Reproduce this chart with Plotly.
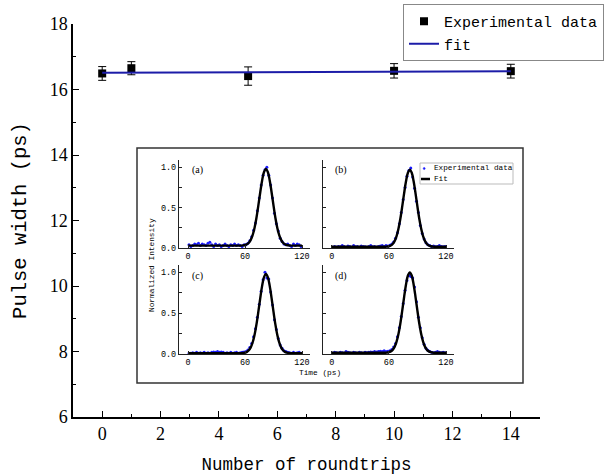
import plotly.graph_objects as go

# ---------------- main chart data ----------------
roundtrips = [0, 1, 5, 10, 14]
pulse_width = [16.49, 16.65, 16.41, 16.57, 16.56]
pulse_err = [0.21, 0.20, 0.28, 0.22, 0.21]
fit_x = [0, 14]
fit_y = [16.51, 16.56]

# ---------------- inset data ----------------
t_data = [1, 3, 5, 7, 9, 11, 13, 15, 17, 19, 21, 23, 25, 27, 29, 31, 33, 35, 37, 39,
          41, 43, 45, 47, 49, 51, 53, 55, 57, 59, 61, 63, 65, 67, 69, 71, 73, 75, 77, 79,
          81, 83, 85, 87, 89, 91, 93, 95, 97, 99, 101, 103, 105, 107, 109, 111, 113, 115, 117, 119]
t_fit = [0, 2, 4, 6, 8, 10, 12, 14, 16, 18, 20, 22, 24, 26, 28, 30, 32, 34, 36, 38, 40,
         42, 44, 46, 48, 50, 52, 54, 56, 58, 60, 62, 64, 66, 68, 70, 72, 74, 76, 78, 80,
         82, 84, 86, 88, 90, 92, 94, 96, 98, 100, 102, 104, 106, 108, 110, 112, 114, 116, 118, 120]

data_a = [0.04, 0.02, 0.03, 0.05, 0.04, 0.06, 0.03, 0.05, 0.04, 0.03, 0.06, 0.07, 0.04, 0.02, 0.05,
          0.03, 0.04, 0.02, 0.03, 0.05, 0.03, 0.02, 0.04, 0.03, 0.05, 0.03, 0.04, 0.03, 0.02, 0.04,
          0.04, 0.06, 0.09, 0.14, 0.22, 0.31, 0.46, 0.62, 0.78, 0.90, 0.97, 1.00, 0.90, 0.78, 0.62,
          0.43, 0.30, 0.21, 0.12, 0.08, 0.05, 0.04, 0.05, 0.03, 0.02, 0.05, 0.03, 0.05, 0.04, 0.02]
data_b = [0.01, 0.02, 0.01, 0.02, 0.015, 0.03, 0.02, 0.01, 0.025, 0.02, 0.01, 0.03, 0.015, 0.02, 0.01,
          0.025, 0.02, 0.015, 0.01, 0.02, 0.03, 0.015, 0.02, 0.01, 0.02, 0.025, 0.03, 0.02, 0.03, 0.025,
          0.035, 0.05, 0.075, 0.12, 0.19, 0.30, 0.44, 0.60, 0.75, 0.89, 0.96, 0.99, 0.88, 0.74, 0.58,
          0.44, 0.28, 0.18, 0.11, 0.065, 0.04, 0.03, 0.02, 0.025, 0.015, 0.02, 0.03, 0.02, 0.015, 0.02]
data_c = [0.01, 0.01, 0.015, 0.01, 0.02, 0.01, 0.015, 0.01, 0.02, 0.01, 0.015, 0.01, 0.02, 0.025, 0.02,
          0.03, 0.02, 0.025, 0.02, 0.01, 0.015, 0.01, 0.02, 0.01, 0.015, 0.02, 0.01, 0.015, 0.02, 0.025,
          0.03, 0.05, 0.08, 0.13, 0.21, 0.31, 0.45, 0.61, 0.77, 0.91, 1.00, 0.93, 0.92, 0.76, 0.60,
          0.42, 0.30, 0.19, 0.11, 0.07, 0.04, 0.03, 0.02, 0.015, 0.01, 0.02, 0.01, 0.015, 0.02, 0.01]
data_d = [0.01, 0.02, 0.015, 0.01, 0.02, 0.015, 0.01, 0.03, 0.02, 0.015, 0.01, 0.02, 0.015, 0.01, 0.02,
          0.015, 0.01, 0.02, 0.015, 0.02, 0.025, 0.02, 0.03, 0.025, 0.03, 0.035, 0.03, 0.04, 0.03, 0.035,
          0.04, 0.055, 0.085, 0.13, 0.21, 0.32, 0.46, 0.62, 0.78, 0.90, 0.96, 0.95, 0.93, 0.82, 0.64,
          0.45, 0.32, 0.20, 0.12, 0.07, 0.045, 0.03, 0.02, 0.015, 0.02, 0.03, 0.02, 0.015, 0.02, 0.015]

fit_a = [0.03, 0.03, 0.03, 0.03, 0.03, 0.03, 0.03, 0.03, 0.03, 0.03, 0.03, 0.03, 0.03, 0.03, 0.03,
         0.03, 0.03, 0.03, 0.03, 0.03, 0.03, 0.03, 0.03, 0.03, 0.03, 0.03, 0.03, 0.03, 0.03,
         0.033, 0.037, 0.046, 0.065, 0.100, 0.159, 0.248, 0.372, 0.525, 0.688, 0.837, 0.942, 0.980,
         0.942, 0.837, 0.688, 0.525, 0.372, 0.248, 0.159, 0.100, 0.065, 0.046, 0.037, 0.033,
         0.03, 0.03, 0.03, 0.03, 0.03, 0.03, 0.03]
fit_b = [0.015, 0.015, 0.015, 0.015, 0.015, 0.015, 0.015, 0.015, 0.015, 0.015, 0.015, 0.015, 0.015,
         0.015, 0.015, 0.015, 0.015, 0.015, 0.015, 0.015, 0.015, 0.015, 0.015, 0.015, 0.015, 0.015,
         0.015, 0.015, 0.015,
         0.018, 0.022, 0.031, 0.050, 0.085, 0.144, 0.235, 0.359, 0.512, 0.677, 0.826, 0.932, 0.970,
         0.932, 0.826, 0.677, 0.512, 0.359, 0.235, 0.144, 0.085, 0.050, 0.031, 0.022, 0.018,
         0.015, 0.015, 0.015, 0.015, 0.015, 0.015, 0.015]
fit_c = [0.01, 0.01, 0.01, 0.01, 0.01, 0.01, 0.01, 0.01, 0.01, 0.01, 0.01, 0.01, 0.01, 0.01, 0.01,
         0.01, 0.01, 0.01, 0.01, 0.01, 0.01, 0.01, 0.01, 0.01, 0.01, 0.01, 0.01, 0.01, 0.01,
         0.013, 0.017, 0.026, 0.046, 0.081, 0.141, 0.233, 0.360, 0.515, 0.682, 0.834, 0.941, 0.980,
         0.941, 0.834, 0.682, 0.515, 0.360, 0.233, 0.141, 0.081, 0.046, 0.026, 0.017, 0.013,
         0.01, 0.01, 0.01, 0.01, 0.01, 0.01, 0.01]
fit_d = [0.015, 0.015, 0.015, 0.015, 0.015, 0.015, 0.015, 0.015, 0.015, 0.015, 0.015, 0.015, 0.015,
         0.015, 0.015, 0.015, 0.015, 0.015, 0.015, 0.015, 0.015, 0.015, 0.015, 0.015, 0.015, 0.015,
         0.015, 0.015, 0.015,
         0.018, 0.022, 0.032, 0.051, 0.087, 0.148, 0.241, 0.370, 0.528, 0.697, 0.852, 0.961, 1.000,
         0.961, 0.852, 0.697, 0.528, 0.370, 0.241, 0.148, 0.087, 0.051, 0.032, 0.022, 0.018,
         0.015, 0.015, 0.015, 0.015, 0.015, 0.015, 0.015]

panel_labels = ["(a)", "(b)", "(c)", "(d)"]
inset_ticks = [0, 60, 120]
inset_yticks = [0, 0.5, 1.0]
inset_yticklabels = ["0.0", "0.5", "1.0"]

W, H = 613, 475
def px(x):
    return x / W
def py(y):
    return 1 - y / H

MONO = "Liberation Mono"
SERIF = "Liberation Serif"

fig = go.Figure()

# main traces
fig.add_trace(go.Scatter(
    x=roundtrips, y=pulse_width, mode="markers", name="Experimental data",
    marker=dict(symbol="square", size=8, color="black"),
    error_y=dict(type="data", array=pulse_err, color="black", thickness=1, width=4),
    xaxis="x", yaxis="y"))
fig.add_trace(go.Scatter(
    x=fit_x, y=fit_y, mode="lines", name="fit",
    line=dict(color="#1c1ca8", width=2), xaxis="x", yaxis="y"))

# inset traces
panels = [(data_a, fit_a), (data_b, fit_b), (data_c, fit_c), (data_d, fit_d)]
for i, (d, f) in enumerate(panels):
    k = str(i + 2)
    fig.add_trace(go.Scatter(
        x=t_data, y=d, mode="markers", showlegend=False,
        marker=dict(size=3, color="#1a1aff"), xaxis="x" + k, yaxis="y" + k))
    fig.add_trace(go.Scatter(
        x=t_fit, y=f, mode="lines", showlegend=False, line_shape="spline",
        line=dict(color="black", width=2.4), xaxis="x" + k, yaxis="y" + k))

layout = dict(
    width=W, height=H,
    margin=dict(l=0, r=0, t=0, b=0, autoexpand=False),
    paper_bgcolor="white", plot_bgcolor="rgba(0,0,0,0)",
    showlegend=True,
    legend=dict(x=px(403), y=py(4), xanchor="left", yanchor="top",
                font=dict(family=MONO, size=15, color="black"),
                bordercolor="#888888", borderwidth=1, bgcolor="white",
                tracegroupgap=0),
    xaxis=dict(domain=[px(73), px(540)], range=[-1, 15], anchor="y", automargin=False,
               tickvals=[0, 2, 4, 6, 8, 10, 12, 14],
               ticks="inside", ticklen=6, tickwidth=1.3, tickcolor="black",
               minor=dict(ticks="inside", ticklen=3, tickvals=[-1, 1, 3, 5, 7, 9, 11, 13, 15],
                          tickcolor="black", tickwidth=1.3),
               showline=True, linecolor="black", linewidth=1.5, showgrid=False, zeroline=False,
               tickfont=dict(family=SERIF, size=18, color="black"),
               title=dict(text="Number of roundtrips", standoff=15,
                          font=dict(family=MONO, size=17.5, color="black"))),
    yaxis=dict(domain=[py(417), py(24)], range=[6, 18], anchor="x", automargin=False,
               tickvals=[6, 8, 10, 12, 14, 16, 18],
               ticks="inside", ticklen=6, tickwidth=1.3, tickcolor="black",
               minor=dict(ticks="inside", ticklen=3, tickvals=[7, 9, 11, 13, 15, 17],
                          tickcolor="black", tickwidth=1.3),
               showline=True, linecolor="black", linewidth=1.5, showgrid=False, zeroline=False,
               tickfont=dict(family=SERIF, size=18, color="black"),
               title=dict(text="Pulse width (ps)", standoff=17,
                          font=dict(family=MONO, size=20.5, color="black"))),
)

inset_dom = {
    2: ([px(179), px(310)], [py(248), py(160)], True),
    3: ([px(322.7), px(454)], [py(248), py(160)], False),
    4: ([px(179), px(310)], [py(354), py(265)], True),
    5: ([px(322.7), px(454)], [py(354), py(265)], False),
}
for k, (xd, yd, showy) in inset_dom.items():
    layout["xaxis%d" % k] = dict(
        domain=xd, range=[-9.5, 128.4], anchor="y%d" % k, automargin=False,
        tickvals=inset_ticks, ticks="inside", ticklen=3, tickwidth=1, tickcolor="#222",
        showline=True, linecolor="#222", linewidth=1.2, showgrid=False, zeroline=False,
        tickfont=dict(family=MONO, size=8.5, color="black"))
    layout["yaxis%d" % k] = dict(
        domain=yd, range=[0, 1.09], anchor="x%d" % k, automargin=False,
        tickvals=inset_yticks, ticktext=inset_yticklabels, showticklabels=showy,
        ticks="inside", ticklen=3, tickwidth=1, tickcolor="#222",
        minor=dict(ticks="inside", ticklen=3, tickvals=[0.25, 0.75], tickcolor="#222", tickwidth=1),
        showline=True, linecolor="#222", linewidth=1.2, showgrid=False, zeroline=False,
        tickfont=dict(family=MONO, size=8.5, color="black"))

fig.update_layout(**layout)

# inset frame
fig.add_shape(type="rect", xref="paper", yref="paper",
              x0=px(137), x1=px(523), y0=py(383), y1=py(148),
              line=dict(color="#333333", width=1.5), fillcolor="white", layer="below")

# inset legend (frame, symbols, labels)
fig.add_shape(type="rect", xref="paper", yref="paper",
              x0=px(420), x1=px(513), y0=py(184), y1=py(163),
              line=dict(color="#bbbbbb", width=1), fillcolor="white", layer="below")
fig.add_shape(type="circle", xref="paper", yref="paper",
              x0=px(423.2), x1=px(425.2), y0=py(169.5), y1=py(167.5),
              line=dict(color="#1a1aff", width=0.5), fillcolor="#1a1aff")
fig.add_shape(type="line", xref="paper", yref="paper",
              x0=px(421), x1=px(430), y0=py(179), y1=py(179),
              line=dict(color="black", width=2.5))
fig.add_annotation(x=px(432), y=py(168), xref="paper", yref="paper", text="Experimental data",
                   showarrow=False, xanchor="left", yanchor="middle",
                   font=dict(family=MONO, size=7.7, color="black"))
fig.add_annotation(x=px(432), y=py(179), xref="paper", yref="paper", text="Fit",
                   showarrow=False, xanchor="left", yanchor="middle",
                   font=dict(family=MONO, size=7.7, color="black"))

# panel labels
label_pos = [(190, 170), (333, 170), (190, 276), (333, 276)]
for lab, (lx, ly) in zip(panel_labels, label_pos):
    fig.add_annotation(x=px(lx), y=py(ly), xref="paper", yref="paper", text=lab,
                       showarrow=False, xanchor="left", yanchor="middle",
                       font=dict(family=SERIF, size=10, color="black"))

# inset axis titles
fig.add_annotation(x=px(152), y=py(265), xref="paper", yref="paper", text="Normalized Intensity",
                   showarrow=False, textangle=-90, xanchor="center", yanchor="middle",
                   font=dict(family=MONO, size=7.8, color="black"))
fig.add_annotation(x=px(320), y=py(373), xref="paper", yref="paper", text="Time (ps)",
                   showarrow=False, xanchor="center", yanchor="middle",
                   font=dict(family=MONO, size=7.8, color="black"))

fig.write_html("out.html", config={"displayModeBar": False},
               post_script="document.body.style.margin='0';document.body.style.padding='0';")
